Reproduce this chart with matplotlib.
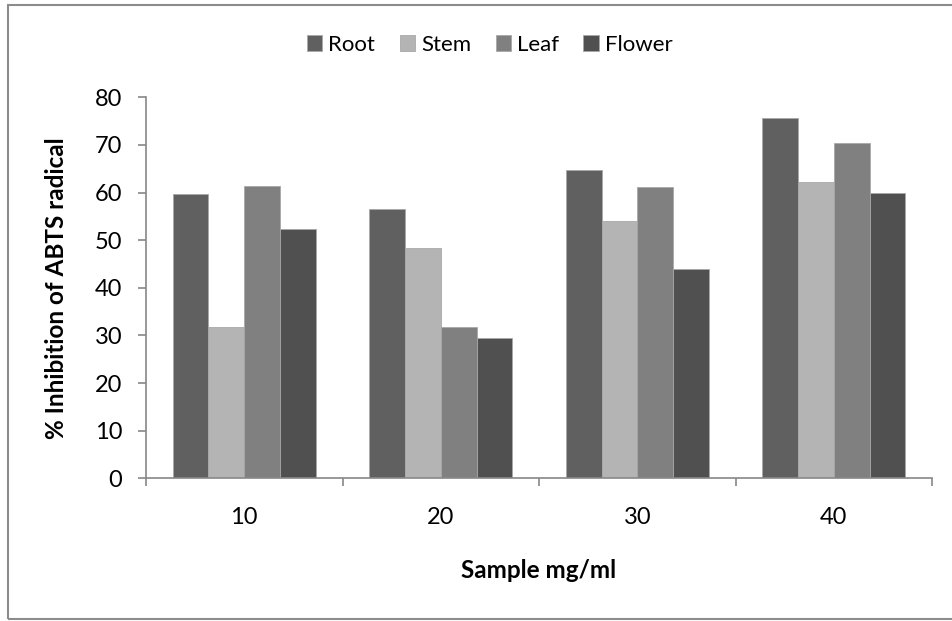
import matplotlib.pyplot as plt
import matplotlib
import numpy as np
from matplotlib.patches import Rectangle

matplotlib.rc('font', family=['Lato', 'DejaVu Sans'])

samples = ['10', '20', '30', '40']
root = [59.7, 56.5, 64.7, 75.6]
stem = [31.8, 48.4, 54.1, 62.3]
leaf = [61.4, 31.7, 61.2, 70.4]
flower = [52.3, 29.4, 43.9, 60.0]
series = [('Root', root, '#606060'), ('Stem', stem, '#b4b4b4'),
          ('Leaf', leaf, '#808080'), ('Flower', flower, '#505050')]

fig = plt.figure(figsize=(9.53, 6.21), dpi=100)
ax = fig.add_axes([0.1532, 0.2298, 0.8248, 0.6135])

x = np.arange(len(samples))
w = 0.182
for i, (name, vals, col) in enumerate(series):
    ax.bar(x + (i - 1.5) * w, vals, w, color=col, label=name,
           edgecolor='#a8a8a8', linewidth=0.6)

ax.set_xlim(-0.5, 3.5)
ax.set_ylim(0, 80)
ax.set_yticks(range(0, 81, 10))
ax.set_xticks(x)
ax.set_xticklabels(samples)
ax.set_xticks(np.arange(-0.5, 4, 1), minor=True)
ax.tick_params(axis='x', which='major', length=0, pad=21, labelsize=17)
ax.tick_params(axis='x', which='minor', length=6, color='#888888', width=1.2)
ax.tick_params(axis='y', length=6, color='#888888', width=1.2, labelsize=17, pad=11)
for s in ['top', 'right']:
    ax.spines[s].set_visible(False)
for s in ['left', 'bottom']:
    ax.spines[s].set_color('#888888')
    ax.spines[s].set_linewidth(1.2)

ax.set_xlabel('Sample mg/ml', fontsize=17.5, fontweight='bold', va='top')
ax.xaxis.set_label_coords(0.5, -0.212)
ax.set_ylabel('% Inhibition of ABTS radical', fontsize=17.5, fontweight='bold')
ax.yaxis.set_label_coords(-0.099, 0.5)

fig.legend(loc='center', bbox_to_anchor=(0.514, 0.928), ncol=4, frameon=False,
           fontsize=16, handlelength=0.68, handleheight=0.68, handletextpad=0.28,
           columnspacing=1.1)

fig.patches.append(Rectangle((8 / 953, 2 / 621), 1.0, 614 / 621, transform=fig.transFigure,
                             fill=False, edgecolor='#8c8c8c', linewidth=1.5))

fig.savefig('out.png', dpi=100)
